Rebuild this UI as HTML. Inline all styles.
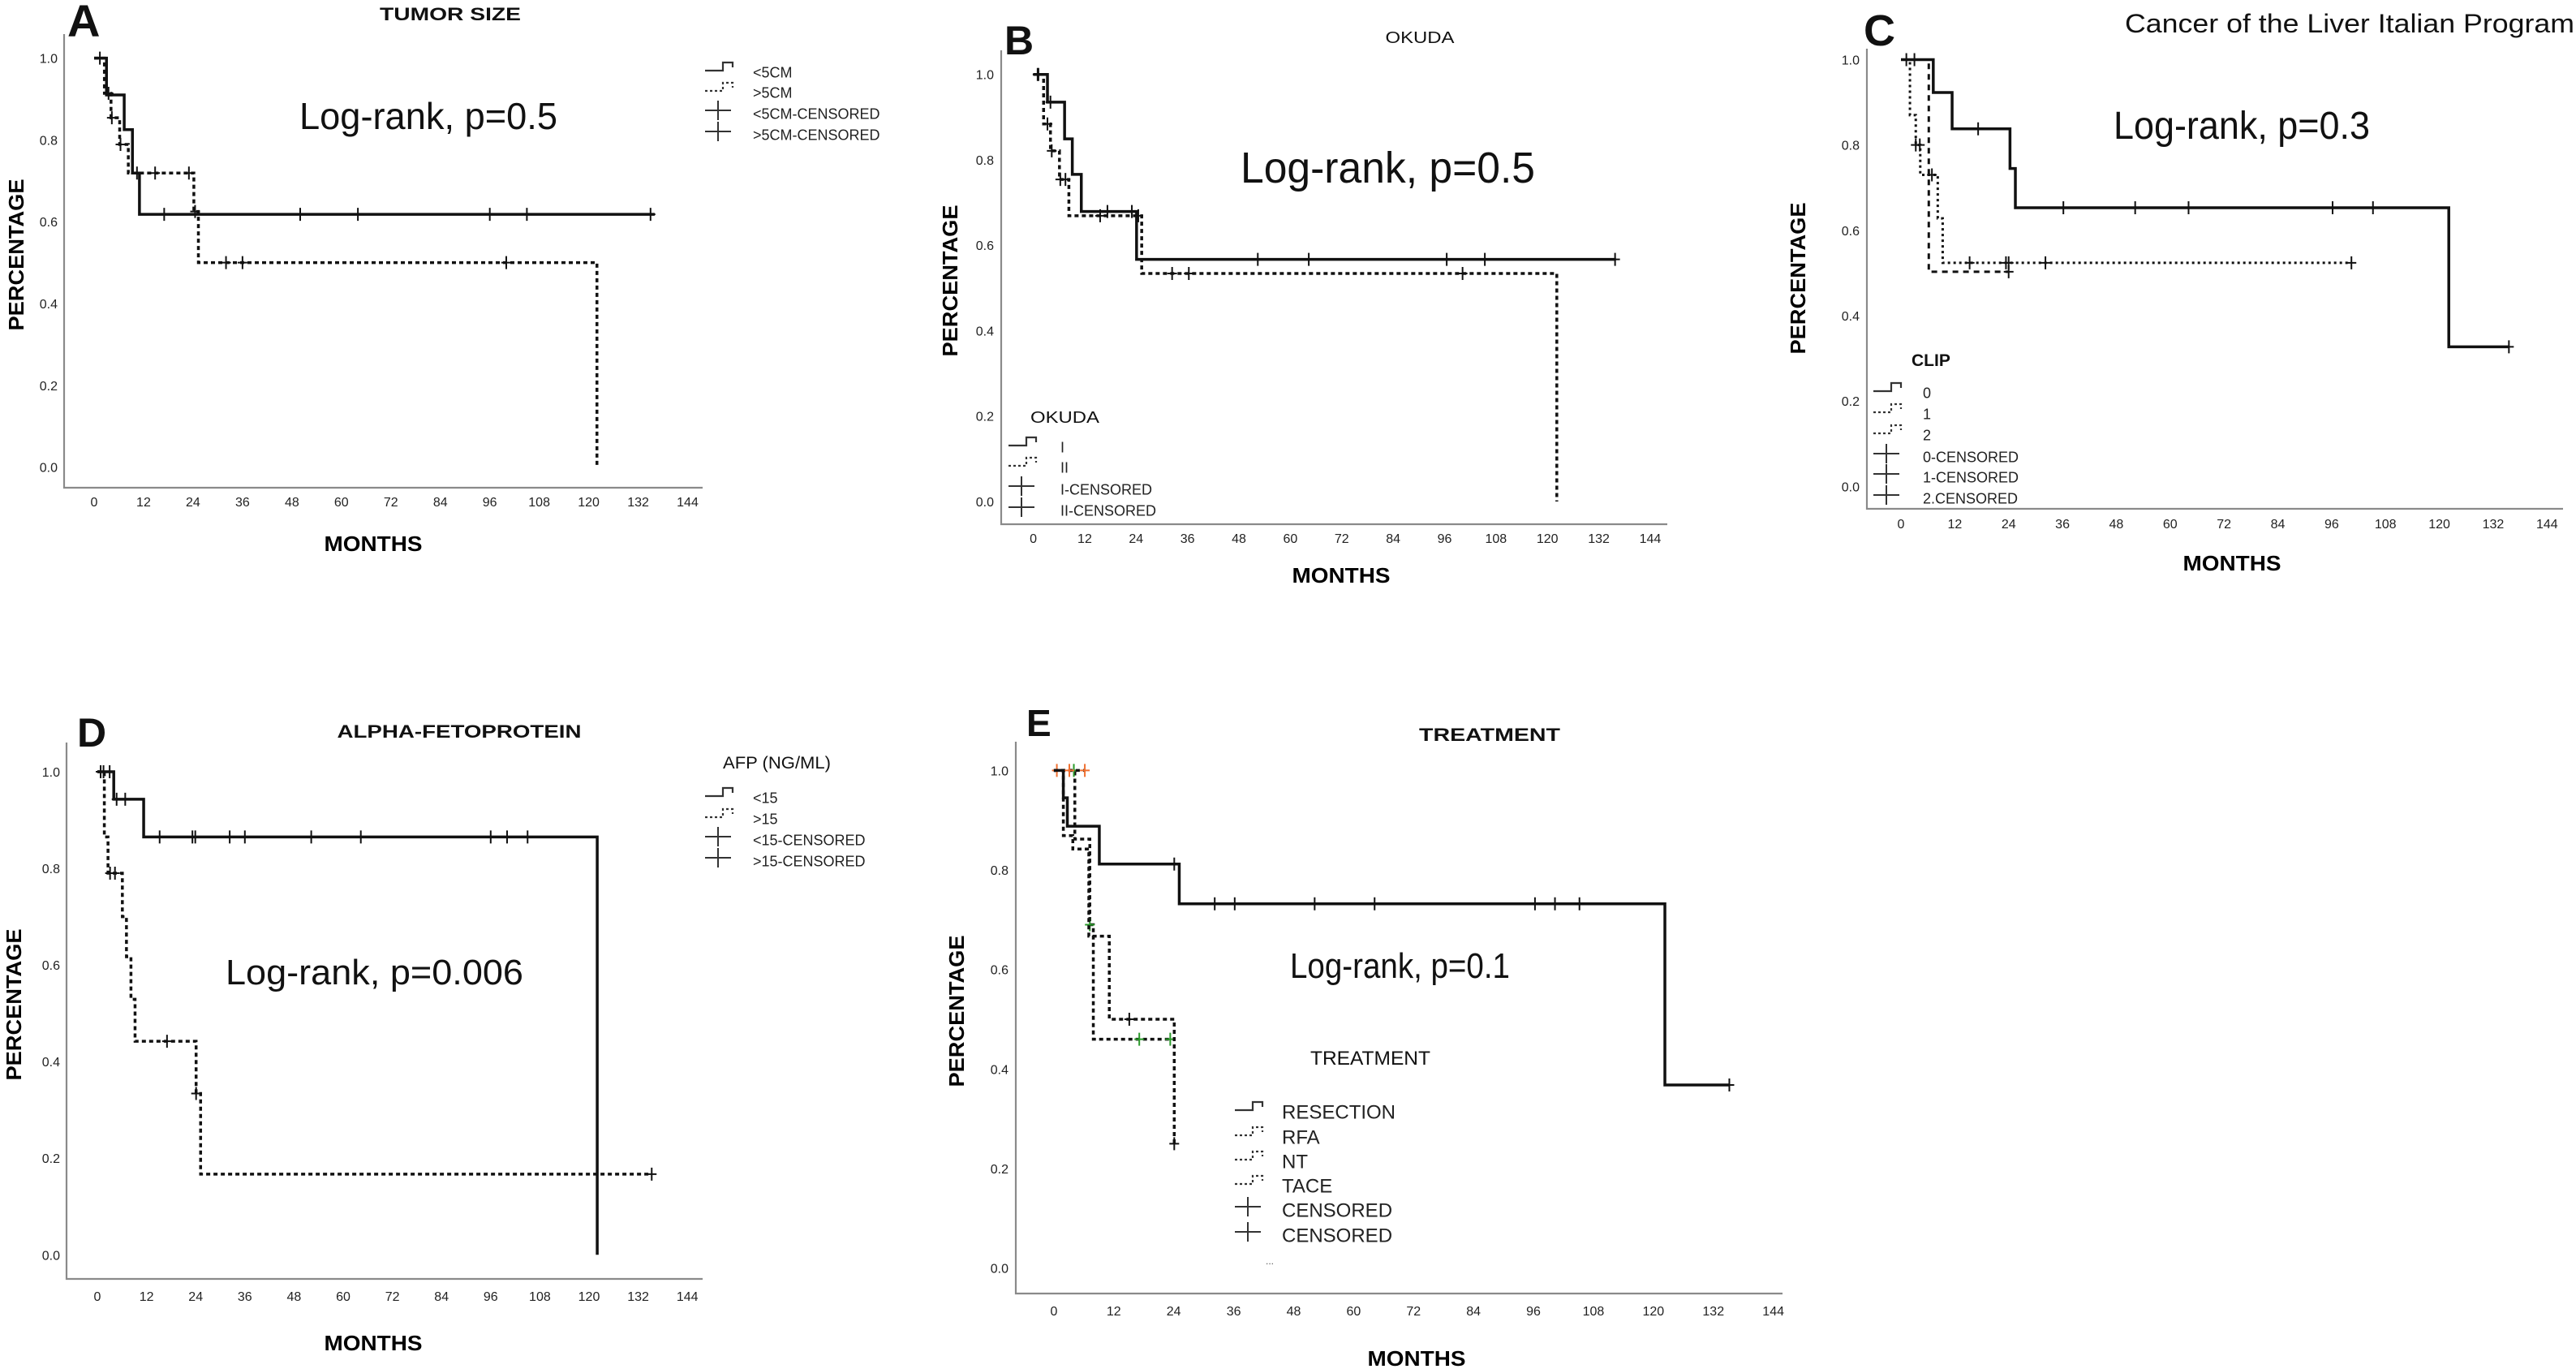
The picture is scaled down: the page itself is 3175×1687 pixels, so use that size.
<!DOCTYPE html>
<html><head><meta charset="utf-8"><style>
html,body{margin:0;padding:0;background:#fff;}
svg{display:block;font-family:"Liberation Sans",sans-serif;}
</style></head><body>
<svg id="fig" width="3175" height="1687" viewBox="0 0 3175 1687" xmlns="http://www.w3.org/2000/svg">
<rect width="3175" height="1687" fill="#fff"/>
</svg>
<script>
// ---------- shared tick data ----------
const xTickLabels = [0,12,24,36,48,60,72,84,96,108,120,132,144];
const yTickLabels = ["0.0","0.2","0.4","0.6","0.8","1.0"];
const yTickValues = [0,0.2,0.4,0.6,0.8,1.0];

// ---------- A: tumor size ----------
const A_lt5_times = [0,3,7.3,9.3,11];
const A_lt5_surv  = [1,0.91,0.825,0.719,0.618];
const A_lt5_end   = 136;
const A_lt5_cens  = [1.4,17,50,64,96,105,135];
const A_gt5_times = [0,2.5,4.1,6.2,8.3,24.2,25.3,122];
const A_gt5_surv  = [1,0.914,0.854,0.789,0.719,0.625,0.50,0];
const A_gt5_end   = 122;
const A_gt5_cens  = [3.5,4.3,6.4,10.4,14.8,23,24.5,32,36,100];

// ---------- B: Okuda ----------
const B_I_times  = [0,3.3,7.3,9.1,11.2,24.1];
const B_I_surv   = [1,0.935,0.849,0.766,0.679,0.567];
const B_I_end    = 136;
const B_I_cens   = [1.2,4,17.3,23,52.4,64.3,96.5,105.4,135.8];
const B_II_times = [0,2.4,4,6.1,8.3,25.3,122.2];
const B_II_surv  = [1,0.884,0.821,0.754,0.669,0.534,0];
const B_II_end   = 122.2;
const B_II_cens  = [1,3.3,4.3,6.3,7.5,15.6,24.5,32.4,36.3,100.2];

// ---------- C: CLIP ----------
const C_0_times = [0,7.2,11.4,24.3,25.5,122.1];
const C_0_surv  = [1,0.923,0.838,0.745,0.653,0.327];
const C_0_end   = 135.5;
const C_0_cens  = [3,17.2,36.2,52.2,64.1,96.2,105.2,135.5];
const C_1_times = [0,2,3.3,4.3,8.2,9.3];
const C_1_surv  = [1,0.87,0.80,0.73,0.628,0.524];
const C_1_end   = 100.4;
const C_1_cens  = [3.3,4.2,6.9,15.3,23.4,24,32.2,100.4];
const C_2_times = [0,6.2];
const C_2_surv  = [1,0.503];
const C_2_end   = 24;
const C_2_cens  = [1.2,24];

// ---------- D: AFP ----------
const D_lt15_times = [0,4.0,11.3,122];
const D_lt15_surv  = [1,0.943,0.865,0];
const D_lt15_end   = 122;
const D_lt15_cens  = [0.8,3,4.7,6.8,15.2,23.2,23.9,32.3,36,52.2,64.3,96,100,105];
const D_gt15_times = [0,1.7,2.6,6.1,7.1,8.2,9.2,24.1,25.2];
const D_gt15_surv  = [1,0.865,0.79,0.70,0.617,0.529,0.442,0.334,0.167];
const D_gt15_end   = 135.3;
const D_gt15_cens  = [1.5,3.1,4.3,17,24.1,135.3];

// ---------- E: treatment ----------
const E_res_times = [0,1.9,2.7,9.1,25.1,122.3];
const E_res_surv  = [1,0.945,0.888,0.812,0.732,0.368];
const E_res_end   = 135.2;
const E_res_cens  = [24.1,32.2,36.2,52.2,64.2,96.3,100.3,105.2,135.2];
const E_rfa_times = [0];
const E_rfa_surv  = [1];
const E_rfa_end   = 6.2;
const E_rfa_cens  = [0.6,3.1,6.2];
const E_nt_times  = [0,1.9,3.8,7.0,11.1,24.1];
const E_nt_surv   = [1,0.869,0.842,0.667,0.50,0.25];
const E_nt_end    = 24.1;
const E_nt_cens   = [15.1,24.1];
const E_tace_times= [0,4.2,7.2,7.9];
const E_tace_surv = [1,0.862,0.69,0.46];
const E_tace_end  = 23.6;
const E_tace_cens = [4,7.2,17.1,23.3];

const NS = "http://www.w3.org/2000/svg";
const svg = document.getElementById('fig');
function el(tag, attrs, parent, txt){
  const e = document.createElementNS(NS, tag);
  for (const k in attrs) e.setAttribute(k, attrs[k]);
  if (txt !== undefined) e.textContent = txt;
  (parent||svg).appendChild(e);
  return e;
}
const STY = {
  solid:{dash:"none",w:3.5},
  dotted:{dash:"5,4",w:3.5},
  dashed:{dash:"7,6",w:3},
  fine:{dash:"3,4",w:3},
  dashdot:{dash:"9,4,3,4",w:3}
};
function makeAxes(ax, name){
  const g = el('g',{});
  
  
  ax.g = g;
  ax.X = t => ax.mx0 + t*ax.pm;
  ax.Y = v => ax.yBot - v*(ax.yBot-ax.yTop);
  const a = el('path',{d:`M${ax.axisX},${ax.axisTop} V${ax.axisY} H${ax.axisRight}`,fill:'none',stroke:'#8a8a8a','stroke-width':2.2},g);
  
  
  xTickLabels.forEach(t=>{
    const tx = el('text',{x:ax.X(t),y:ax.tickY+6,'font-size':16,'text-anchor':'middle',fill:'#222'},g,String(t));
    
    
  });
  yTickValues.forEach((v,i)=>{
    const ty = el('text',{x:ax.ytickRight,y:ax.Y(v)+6,'font-size':16,'text-anchor':'end',fill:'#222'},g,yTickLabels[i]);
    
    
  });
  const yl = el('text',{x:0,y:0,'font-size':26,'font-weight':'bold','text-anchor':'middle',textLength:187,lengthAdjust:'spacingAndGlyphs',transform:`translate(${ax.ylx+9},${ax.yly}) rotate(-90)`},g,'PERCENTAGE');
  
  
  const xl = el('text',{x:ax.xlx,y:ax.xly+10,'font-size':26,'font-weight':'bold','text-anchor':'middle',textLength:121,lengthAdjust:'spacingAndGlyphs'},g,'MONTHS');
  
  
  return g;
}
function km(ax, times, surv, end, cens, style, color, censColor, name){
  const s = STY[style];
  let d = `M${ax.X(times[0])},${ax.Y(surv[0])}`;
  for (let i=1;i<times.length;i++){ d += ` H${ax.X(times[i])} V${ax.Y(surv[i])}`; }
  d += ` H${ax.X(end)}`;
  const p = el('path',{d:d,fill:'none',stroke:color,'stroke-width':s.w,'stroke-dasharray':s.dash},ax.g);
  
  
  cens.forEach(t=>{
    let v = surv[0];
    for (let i=0;i<times.length;i++){ if (times[i]<=t) v = surv[i]; }
    const cx = ax.X(t), cy = ax.Y(v);
    const c = el('path',{d:`M${cx},${cy-8} V${cy+8} M${cx-6},${cy} H${cx+6}`,stroke:censColor||color,'stroke-width':2,fill:'none'},ax.g);
    
    
  });
}
function legend(ax, symX, textX, rows, labels, styles, fs, name){
  labels.forEach((lab,i)=>{
    const y = rows[i];
    const st = styles[i];
    let sym;
    if (st==='cross'){
      sym = el('path',{d:`M${symX},${y-4} H${symX+32} M${symX+16},${y-16} V${y+8}`,stroke:'#333','stroke-width':2,fill:'none'},ax.g);
    } else {
      const s = STY[st];
      sym = el('path',{d:`M${symX},${y-2} H${symX+22} V${y-12} H${symX+34} V${y-6}`,stroke:'#333','stroke-width':2.2,fill:'none','stroke-dasharray':s.dash==='none'?'none':'3,3'},ax.g);
    }
    
    
    const t = el('text',{x:textX,y:y+fs*0.35,'font-size':fs,fill:'#222'},ax.g,lab);
    
    
  });
}
function txt(x,y,s,attrs,name){
  const a = Object.assign({x:x,y:y,fill:'#111'},attrs);
  const t = el('text',a,svg,s);
  
  
  return t;
}

// ---------- Panel A ----------
const axA = {mx0:116,pm:5.08,yTop:71.6,yBot:575.6,axisX:79,axisY:601,axisTop:42,axisRight:866,tickY:618,ytickRight:71,ylx:20,yly:314,xlx:460,xly:669};
makeAxes(axA,'tumor-size');
km(axA,A_gt5_times,A_gt5_surv,A_gt5_end,A_gt5_cens,'dotted','#111',null,'gt5cm');
km(axA,A_lt5_times,A_lt5_surv,A_lt5_end,A_lt5_cens,'solid','#111',null,'lt5cm');
legend(axA,869,928,[89,114,140,166],['<5CM','>5CM','<5CM-CENSORED','>5CM-CENSORED'],['solid','dotted','cross','cross'],18,'tumor-size');
txt(83,45,'A',{'font-size':56,'font-weight':'bold'},'panel-letter-a');
txt(555,25,'TUMOR SIZE',{'font-size':22,'font-weight':'bold','text-anchor':'middle',textLength:174,lengthAdjust:'spacingAndGlyphs'},'chart-title-tumor-size');
txt(369,159,'Log-rank, p=0.5',{'font-size':46,textLength:318,lengthAdjust:'spacingAndGlyphs'},'logrank-annotation-a');

// ---------- Panel B ----------
const axB = {mx0:1273.6,pm:5.28,yTop:91.7,yBot:618,axisX:1234,axisY:646,axisTop:62,axisRight:2055,tickY:663,ytickRight:1225,ylx:1171,yly:346,xlx:1653,xly:708};
makeAxes(axB,'okuda');
km(axB,B_II_times,B_II_surv,B_II_end,B_II_cens,'dotted','#111',null,'okuda-ii');
km(axB,B_I_times,B_I_surv,B_I_end,B_I_cens,'solid','#111',null,'okuda-i');
txt(1270,521,'OKUDA',{'font-size':20,textLength:85,lengthAdjust:'spacingAndGlyphs'},'legend-title-okuda');
legend(axB,1243,1307,[551,576,603,629],['I','II','I-CENSORED','II-CENSORED'],['solid','dotted','cross','cross'],18,'okuda');
txt(1238,67,'B',{'font-size':50,'font-weight':'bold'},'panel-letter-b');
txt(1750,53,'OKUDA',{'font-size':20,'text-anchor':'middle',textLength:85,lengthAdjust:'spacingAndGlyphs'},'chart-title-okuda');
txt(1529,225,'Log-rank, p=0.5',{'font-size':54,textLength:363,lengthAdjust:'spacingAndGlyphs'},'logrank-annotation-b');

// ---------- Panel C ----------
const axC = {mx0:2343,pm:5.53,yTop:73.5,yBot:599.4,axisX:2301,axisY:627,axisTop:60,axisRight:3159,tickY:645,ytickRight:2292,ylx:2216,yly:343,xlx:2751,xly:693};
makeAxes(axC,'clip');
km(axC,C_2_times,C_2_surv,C_2_end,C_2_cens,'dashed','#111',null,'clip-2');
km(axC,C_1_times,C_1_surv,C_1_end,C_1_cens,'fine','#111',null,'clip-1');
km(axC,C_0_times,C_0_surv,C_0_end,C_0_cens,'solid','#111',null,'clip-0');
txt(2356,451,'CLIP',{'font-size':21,'font-weight':'bold'},'legend-title-clip');
legend(axC,2309,2370,[484,510,536,563,588,614],['0','1','2','0-CENSORED','1-CENSORED','2.CENSORED'],['solid','dashed','fine','cross','cross','cross'],18,'clip');
txt(2297,56,'C',{'font-size':54,'font-weight':'bold'},'panel-letter-c');
txt(2619,40,'Cancer of the Liver Italian Program',{'font-size':32,textLength:554,lengthAdjust:'spacingAndGlyphs'},'chart-title-clip');
txt(2605,171,'Log-rank, p=0.3',{'font-size':48,textLength:316,lengthAdjust:'spacingAndGlyphs'},'logrank-annotation-c');

// ---------- Panel D ----------
const axD = {mx0:120,pm:5.05,yTop:951,yBot:1546.3,axisX:82,axisY:1576,axisTop:915,axisRight:866,tickY:1597,ytickRight:74,ylx:17,yly:1238,xlx:460,xly:1654};
makeAxes(axD,'afp');
km(axD,D_gt15_times,D_gt15_surv,D_gt15_end,D_gt15_cens,'dotted','#111',null,'afp-gt15');
km(axD,D_lt15_times,D_lt15_surv,D_lt15_end,D_lt15_cens,'solid','#111',null,'afp-lt15');
txt(891,947,'AFP (NG/ML)',{'font-size':21,textLength:133,lengthAdjust:'spacingAndGlyphs'},'legend-title-afp');
legend(axD,869,928,[983,1009,1035,1061],['<15','>15','<15-CENSORED','>15-CENSORED'],['solid','dotted','cross','cross'],18,'afp');
txt(95,920,'D',{'font-size':50,'font-weight':'bold'},'panel-letter-d');
txt(566,909,'ALPHA-FETOPROTEIN',{'font-size':22,'font-weight':'bold','text-anchor':'middle',textLength:301,lengthAdjust:'spacingAndGlyphs'},'chart-title-afp');
txt(278,1213,'Log-rank, p=0.006',{'font-size':44,textLength:367,lengthAdjust:'spacingAndGlyphs'},'logrank-annotation-d');

// ---------- Panel E ----------
const axE = {mx0:1298.9,pm:6.158,yTop:949.4,yBot:1562.7,axisX:1252,axisY:1594,axisTop:914,axisRight:2197,tickY:1615,ytickRight:1243,ylx:1179,yly:1246,xlx:1746,xly:1673};
makeAxes(axE,'treatment');
km(axE,E_tace_times,E_tace_surv,E_tace_end,E_tace_cens,'dotted','#111','#2a9a2a','tace');
km(axE,E_nt_times,E_nt_surv,E_nt_end,E_nt_cens,'dotted','#111',null,'nt');
km(axE,E_rfa_times,E_rfa_surv,E_rfa_end,E_rfa_cens,'dotted','#111','#f07030','rfa');
km(axE,E_res_times,E_res_surv,E_res_end,E_res_cens,'solid','#111',null,'resection');
txt(1615,1312,'TREATMENT',{'font-size':24,textLength:148,lengthAdjust:'spacingAndGlyphs'},'legend-title-treatment');
legend(axE,1522,1580,[1370,1401,1431,1461,1491,1522],['RESECTION','RFA','NT','TACE','CENSORED','CENSORED'],['solid','dashed','fine','dashdot','cross','cross'],24,'treatment');
txt(1560,1558,'...',{'font-size':12,fill:'#555'},'legend-more');
txt(1265,907,'E',{'font-size':46,'font-weight':'bold'},'panel-letter-e');
txt(1836,913,'TREATMENT',{'font-size':22,'font-weight':'bold','text-anchor':'middle',textLength:174,lengthAdjust:'spacingAndGlyphs'},'chart-title-treatment');
txt(1590,1205,'Log-rank, p=0.1',{'font-size':44,textLength:271,lengthAdjust:'spacingAndGlyphs'},'logrank-annotation-e');
</script>
</body></html>
